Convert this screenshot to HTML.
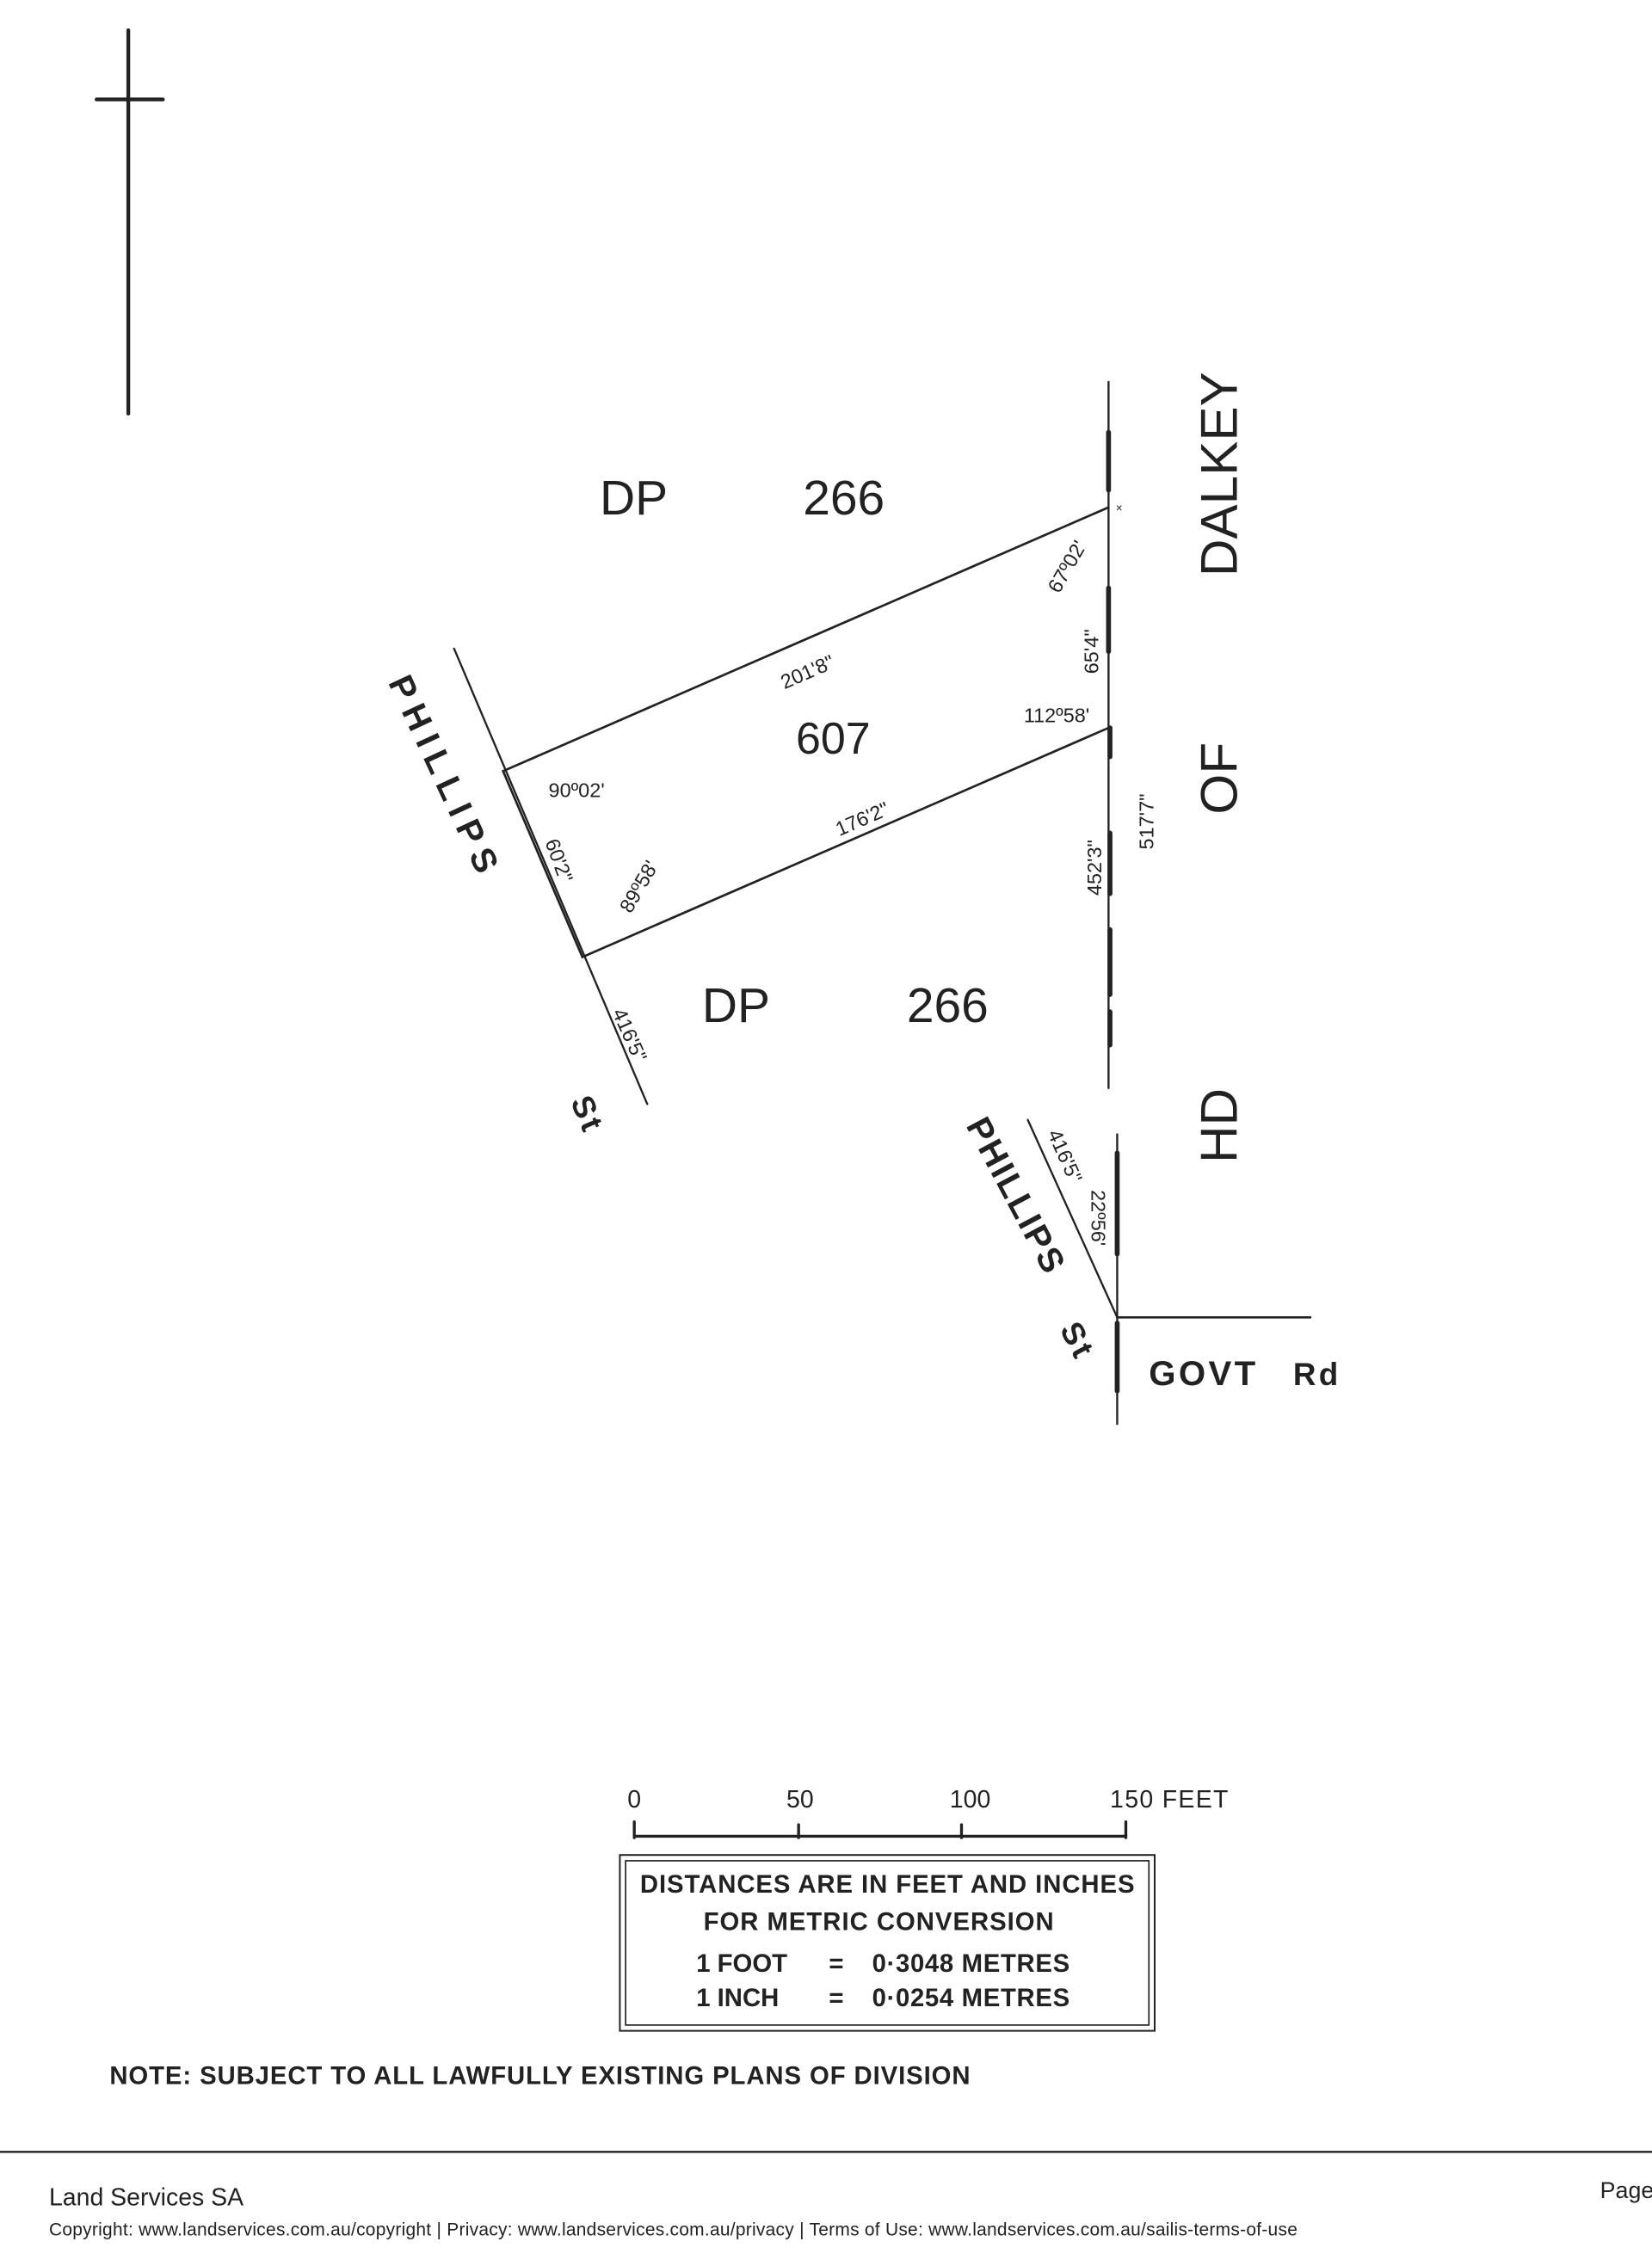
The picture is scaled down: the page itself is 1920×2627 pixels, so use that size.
<!DOCTYPE html>
<html><head><meta charset="utf-8"><style>
html,body{margin:0;padding:0;background:#fff;}
svg{display:block;}
text{font-family:"Liberation Sans",sans-serif;fill:#222;}
.s{font-family:"Liberation Sans Narrow","Liberation Sans",sans-serif;font-weight:bold;letter-spacing:2px;}
</style></head><body>
<svg width="1920" height="2627" viewBox="0 0 1146 1568" xmlns="http://www.w3.org/2000/svg">
<rect width="1146" height="1568" fill="#fff"/>
<g stroke="#222" fill="none" stroke-linecap="round">
<line x1="89" y1="21" x2="89" y2="287" stroke-width="2.6"/>
<line x1="67" y1="69" x2="113" y2="69" stroke-width="2.6"/>
<line x1="769" y1="265" x2="769" y2="755" stroke-width="1.4"/>
<g stroke-width="3.4">
<line x1="769" y1="300" x2="769" y2="340"/>
<line x1="769" y1="408" x2="769" y2="452"/>
<line x1="770" y1="505" x2="770" y2="525"/>
<line x1="770" y1="578" x2="770" y2="620"/>
<line x1="770" y1="645" x2="770" y2="690"/>
<line x1="770" y1="702" x2="770" y2="725"/>
<line x1="775" y1="800" x2="775" y2="870"/>
<line x1="775" y1="918" x2="775" y2="965"/>
</g>
<polyline points="769,352 349,535 404,664 769,505" stroke-width="1.6"/>
<line x1="315" y1="450" x2="449" y2="766" stroke-width="1.4"/>
<line x1="775" y1="787" x2="775" y2="988" stroke-width="1.4"/>
<line x1="713" y1="777" x2="775" y2="914" stroke-width="1.4"/>
<line x1="775" y1="914" x2="909" y2="914" stroke-width="1.6"/>
<line x1="440" y1="1274" x2="781" y2="1274" stroke-width="2"/>
<line x1="440" y1="1264" x2="440" y2="1275" stroke-width="2"/>
<line x1="554" y1="1266" x2="554" y2="1275" stroke-width="2"/>
<line x1="667" y1="1266" x2="667" y2="1275" stroke-width="2"/>
<line x1="781" y1="1264" x2="781" y2="1275" stroke-width="2"/>
<rect x="430" y="1287" width="371" height="122" stroke-width="1.2"/>
<rect x="434" y="1291" width="363" height="114" stroke-width="1"/>
<line x1="0" y1="1493" x2="1146" y2="1493" stroke-width="1.4"/>
</g>
<text x="774" y="355" font-size="8">×</text>
<text x="416" y="357" font-size="34">DP</text>
<text x="557" y="357" font-size="34">266</text>
<text x="487" y="709" font-size="34">DP</text>
<text x="629" y="709" font-size="34">266</text>
<text x="578" y="523" font-size="31" text-anchor="middle">607</text>
<text x="560" y="471" font-size="14" text-anchor="middle" transform="rotate(-23.5 560 466)">201'8"</text>
<text x="598" y="573" font-size="14" text-anchor="middle" transform="rotate(-23.5 598 568)">176'2"</text>
<text x="400" y="553" font-size="14" text-anchor="middle">90º02'</text>
<text x="733" y="501" font-size="14" text-anchor="middle">112º58'</text>
<text x="443" y="620" font-size="14" text-anchor="middle" transform="rotate(-60 443 615)">89º58'</text>
<text x="388" y="602" font-size="14" text-anchor="middle" transform="rotate(70 388 597)">60'2"</text>
<text x="740" y="398" font-size="14" text-anchor="middle" transform="rotate(-60 740 393)">67º02'</text>
<text x="757" y="457" font-size="14" text-anchor="middle" transform="rotate(-90 757 452)">65'4"</text>
<text x="759" y="607" font-size="14" text-anchor="middle" transform="rotate(-90 759 602)">452'3"</text>
<text x="795" y="575" font-size="14" text-anchor="middle" transform="rotate(-90 795 570)">517'7"</text>
<text x="437" y="723" font-size="14" text-anchor="middle" transform="rotate(66 437 718)">416'5"</text>
<text x="739" y="807" font-size="14" text-anchor="middle" transform="rotate(66 739 802)">416'5"</text>
<text x="762" y="850" font-size="14" text-anchor="middle" transform="rotate(90 762 845)">22º56'</text>
<text x="845" y="342" font-size="36" text-anchor="middle" transform="rotate(-90 845 329)">DALKEY</text>
<text x="845" y="553" font-size="36" text-anchor="middle" transform="rotate(-90 845 540)">OF</text>
<text x="845" y="794" font-size="36" text-anchor="middle" transform="rotate(-90 845 781)">HD</text>
<text class="s" x="308" y="546" font-size="24" text-anchor="middle" textLength="150" transform="rotate(65 308 538)">PHILLIPS</text>
<text class="s" x="408" y="781" font-size="22" text-anchor="middle" transform="rotate(67 408 773)">St</text>
<text class="s" x="705" y="838" font-size="24" text-anchor="middle" textLength="120" transform="rotate(62 705 830)">PHILLIPS</text>
<text class="s" x="748" y="938" font-size="22" text-anchor="middle" transform="rotate(62 748 930)">St</text>
<text class="s" x="797" y="961" font-size="24">GOVT</text>
<text class="s" x="897" y="961" font-size="22">Rd</text>
<text x="440" y="1254" font-size="17" text-anchor="middle">0</text>
<text x="555" y="1254" font-size="17" text-anchor="middle">50</text>
<text x="673" y="1254" font-size="17" text-anchor="middle">100</text>
<text x="770" y="1254" font-size="17" textLength="82">150 FEET</text>
<text x="444" y="1313" font-size="17.5" font-weight="bold" textLength="343">DISTANCES ARE IN FEET AND INCHES</text>
<text x="488" y="1339" font-size="17.5" font-weight="bold" textLength="243">FOR METRIC CONVERSION</text>
<text x="483" y="1368" font-size="17.5" font-weight="bold">1  FOOT</text>
<text x="575" y="1368" font-size="17.5" font-weight="bold">=</text>
<text x="605" y="1368" font-size="17.5" font-weight="bold" textLength="137">0·3048 METRES</text>
<text x="483" y="1392" font-size="17.5" font-weight="bold">1  INCH</text>
<text x="575" y="1392" font-size="17.5" font-weight="bold">=</text>
<text x="605" y="1392" font-size="17.5" font-weight="bold" textLength="137">0·0254 METRES</text>
<text x="76" y="1446" font-size="17.5" font-weight="bold" textLength="597">NOTE: SUBJECT TO ALL LAWFULLY EXISTING PLANS OF DIVISION</text>
<text x="34" y="1530" font-size="17" textLength="135">Land Services SA</text>
<text x="1110" y="1525" font-size="16">Page</text>
<text x="34" y="1551" font-size="12.5" textLength="866">Copyright: www.landservices.com.au/copyright | Privacy: www.landservices.com.au/privacy | Terms of Use: www.landservices.com.au/sailis-terms-of-use</text>
</svg>
</body></html>
